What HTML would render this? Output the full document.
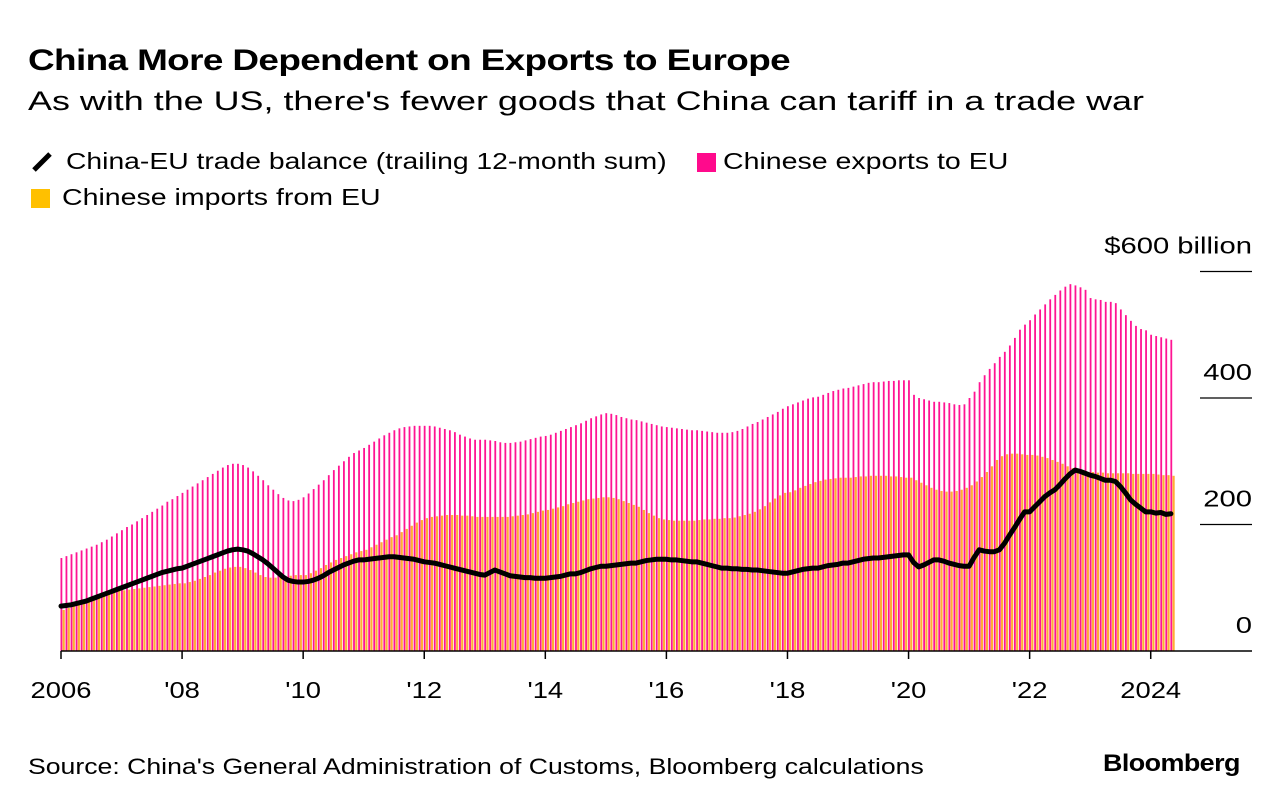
<!DOCTYPE html>
<html><head><meta charset="utf-8">
<style>
body{margin:0;background:#fff;font-family:"Liberation Sans",sans-serif;color:#000}
#wrap{position:relative;width:1280px;height:808px;overflow:hidden}
.t{position:absolute;white-space:nowrap;transform-origin:0 50%}
</style></head>
<body>
<div id="wrap">
<div class="t" style="left:28px;top:44px;font-size:30px;font-weight:bold;letter-spacing:-0.5px;transform:scaleX(1.23)">China More Dependent on Exports to Europe</div>
<div class="t" style="left:28px;top:86px;font-size:27px;transform:scaleX(1.33)">As with the US, there's fewer goods that China can tariff in a trade war</div>
<svg width="26" height="24" style="position:absolute;left:30px;top:150px"><line x1="4" y1="20" x2="20" y2="4" stroke="#000" stroke-width="5"/></svg>
<div class="t" style="left:66px;top:148px;font-size:23px;transform:scaleX(1.23)">China-EU trade balance (trailing 12-month sum)</div>
<span style="position:absolute;left:697px;top:153px;width:19px;height:19px;background:#ff0a8c"></span>
<div class="t" style="left:723px;top:148px;font-size:23px;transform:scaleX(1.24)">Chinese exports to EU</div>
<span style="position:absolute;left:31px;top:189px;width:19px;height:19px;background:#ffc000"></span>
<div class="t" style="left:62px;top:184px;font-size:23px;transform:scaleX(1.24)">Chinese imports from EU</div>
<svg id="chart" width="1280" height="808" style="position:absolute;left:0;top:0"></svg>
<div class="t" style="left:28px;top:754px;font-size:22px;transform:scaleX(1.21)">Source: China's General Administration of Customs, Bloomberg calculations</div>
<div class="t" style="left:1103px;top:750px;font-size:24px;font-weight:bold;letter-spacing:-0.5px;transform:scaleX(1.12)">Bloomberg</div>
</div>
<script>
const startYear = 2006;
const exportsVals = [
147,150,153,156,159,162,165,168,172,176,181,186,
191,196,200,205,210,215,220,225,230,236,240,245,
250,255,260,265,270,275,280,285,290,294,296,296,
294,290,284,277,270,262,255,248,242,238,237,239,
243,249,256,263,270,278,286,293,300,307,313,317,
321,326,331,336,341,345,349,352,354,355,356,356,
356,356,355,353,351,349,346,342,339,336,334,334,
334,333,332,330,329,329,330,331,333,335,337,339,
340,342,345,348,351,354,357,360,364,368,371,374,
376,375,373,370,368,366,365,363,361,359,357,355,
354,353,352,351,350,349,349,348,347,346,345,345,
345,346,348,351,355,359,362,366,370,374,378,383,
387,390,393,396,399,401,402,405,408,411,413,415,
416,418,420,422,424,425,425,426,427,427,428,428,
428,405,400,398,396,394,394,393,392,390,389,390,
400,410,425,436,446,455,465,473,483,495,508,516,
523,532,540,548,556,563,570,576,580,578,575,571,
558,556,555,552,552,550,540,531,522,514,509,507,
500,498,496,494,492];
const importsVals = [
65,68,71,74,77,80,83,85,88,90,93,95,
96,97,98,99,100,101,102,103,104,105,106,107,
107,109,111,114,117,120,124,127,130,132,133,133,
131,128,124,120,117,116,116,117,118,119,120,120,
120,123,127,131,136,140,144,147,150,153,156,158,
160,164,168,172,176,180,183,188,193,198,203,207,
210,212,213,214,215,215,215,214,214,213,212,212,
212,212,212,212,212,213,214,215,216,218,220,222,
223,225,227,229,232,234,236,238,240,241,242,243,
243,242,240,237,234,231,228,223,218,214,210,208,
207,206,206,206,206,206,207,208,208,209,209,210,
210,211,213,215,217,220,224,229,235,241,246,250,
251,254,258,261,264,267,269,271,272,273,274,274,
274,275,276,276,277,277,277,277,276,276,275,274,
274,270,266,262,258,255,253,252,252,253,255,258,
262,268,275,283,292,302,308,311,312,312,311,310,
310,309,307,305,302,299,296,292,289,286,284,283,
283,282,282,281,281,281,281,281,280,280,280,280,
280,279,278,278,277];
const balanceVals = [
71,72,73,75,77,79,82,85,88,91,94,97,
100,103,106,109,112,115,118,121,124,126,128,130,
131,134,137,140,143,146,149,152,155,158,160,161,
160,158,154,149,144,138,131,124,117,112,110,109,
109,110,112,115,119,124,128,132,136,139,142,144,
144,145,146,147,148,149,149,148,147,146,145,143,
141,140,139,137,135,133,131,129,127,125,123,121,
120,124,128,125,122,119,118,117,116,116,115,115,
115,116,117,118,120,122,122,124,127,130,132,134,
134,135,136,137,138,139,139,141,143,144,145,145,
145,144,144,143,142,141,141,139,137,135,133,131,
131,130,130,129,129,128,128,127,126,125,124,123,
123,125,127,129,130,131,131,133,135,136,137,139,
139,141,143,145,146,147,147,148,149,150,151,152,
152,140,133,136,140,144,144,142,139,137,135,134,
134,148,160,158,157,157,160,170,183,195,208,220,
220,228,236,244,250,255,263,272,280,286,284,281,
278,276,273,270,270,268,260,250,239,232,226,220,
220,218,219,216,217];
const yTicks = [0,200,400,600];
const yTickLabels = ["0","200","400","$600 billion"];
const xTickYears = [2006,2008,2010,2012,2014,2016,2018,2020,2022,2024];
const xTickLabels = ["2006","'08","'10","'12","'14","'16","'18","'20","'22","2024"];

const NS="http://www.w3.org/2000/svg";
const svg=document.getElementById('chart');
const x0=61, pxPerMonth=5.045, y0=651, pxPerUnit=0.6325;
function xM(i){return x0+i*pxPerMonth;}
function xYear(y){return x0+(y-startYear)*12*pxPerMonth;}
function yV(v){return y0-v*pxPerUnit;}
function mk(tag,attrs){const e=document.createElementNS(NS,tag);for(const k in attrs)e.setAttribute(k,attrs[k]);svg.appendChild(e);return e;}
function widen(t,f){const w=t.getComputedTextLength();t.setAttribute('textLength',w*f);t.setAttribute('lengthAdjust','spacingAndGlyphs');}

yTicks.forEach((t,i)=>{
  const y=yV(t);
  if(t>0){const l=mk('line',{x1:1200,x2:1252,y1:y,y2:y,stroke:'#000','stroke-width':1.3});
  
  }
  const tx=mk('text',{x:1252,y:y-18,'text-anchor':'end','font-size':23,'font-family':'Liberation Sans, sans-serif'});
  tx.textContent=yTickLabels[i];
  
  
  widen(tx,1.27);
});
exportsVals.forEach((v,i)=>{
  const x=xM(i);
  const b=mk('rect',{x:x-0.5,y:yV(v),width:1.8,height:v*pxPerUnit,fill:'#ff1493'});
  
  
});
importsVals.forEach((v,i)=>{
  const x=xM(i);
  const b=mk('rect',{x:x+1.6,y:yV(v),width:2.2,height:v*pxPerUnit,fill:'#ffad33'});
  
  
});
const base=mk('line',{x1:x0,x2:1252,y1:y0,y2:y0,stroke:'#000','stroke-width':1.5});


const pl=mk('polyline',{points:balanceVals.map((v,i)=>xM(i)+','+yV(v)).join(' '),fill:'none',stroke:'#000','stroke-width':5,'stroke-linejoin':'round','stroke-linecap':'round'});


xTickYears.forEach((yr,i)=>{
  const x=xYear(yr);
  const l=mk('line',{x1:x,x2:x,y1:y0,y2:y0+8,stroke:'#000','stroke-width':1.5});
  
  
  const t=mk('text',{x:x,y:698,'text-anchor':'middle','font-size':23,'font-family':'Liberation Sans, sans-serif'});
  t.textContent=xTickLabels[i];
  
  
  widen(t,1.19);
});
</script>
</body></html>
